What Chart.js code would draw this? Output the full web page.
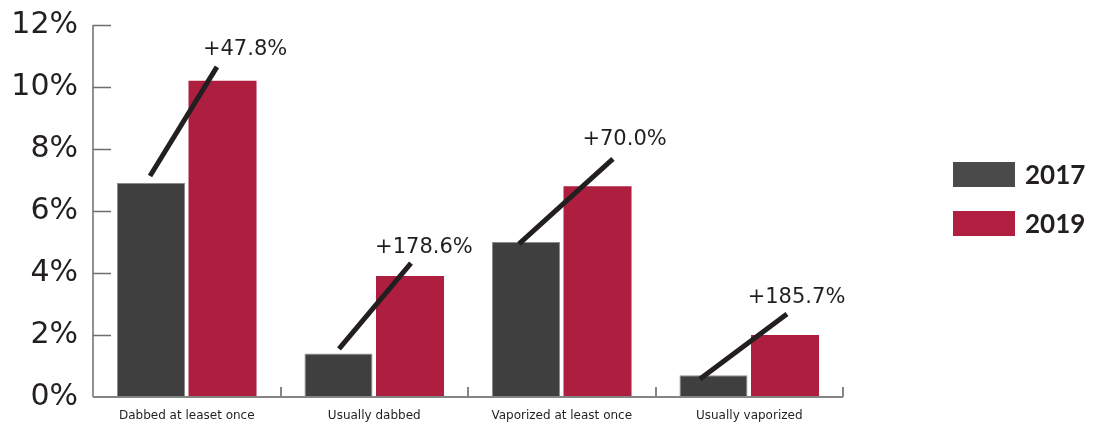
<!DOCTYPE html>
<html>
<head>
<meta charset="utf-8">
<script src="https://cdn.jsdelivr.net/npm/chart.js@4/dist/chart.umd.min.js"></script>
<style>
  html, body { margin: 0; padding: 0; background: #ffffff; }
  #wrap { width: 1099px; height: 425px; position: relative; }
</style>
</head>
<body>
<div id="wrap"><canvas id="c" width="1099" height="425"></canvas></div>
<script>
// Share of respondents, 2017 vs 2019
const categories = ['Dabbed at leaset once', 'Usually dabbed', 'Vaporized at least once', 'Usually vaporized'];
const values2017 = [6.9, 1.4, 5.0, 0.7];
const values2019 = [10.2, 3.9, 6.8, 2.0];
const yTicks = [0, 2, 4, 6, 8, 10, 12];
const changeLabels = ['+47.8%', '+178.6%', '+70.0%', '+185.7%'];

// Leader lines and change labels, anchored in data space:
// [offset from category centre (in categories), value (%)]
const leaders = {
  from:  [[-0.196, 7.13], [-0.188, 1.55], [-0.228, 4.94], [-0.263, 0.58]],
  to:    [[0.161, 10.65], [0.196, 4.32], [0.273, 7.68], [0.201, 2.68]],
  label: [[0.311, 11.03], [0.265, 4.65], [0.335, 8.13], [0.252, 3.03]]
};

const INK = '#231f20';
const AXIS = '#6e6e6e';
const FONT = '"DejaVu Sans", sans-serif';
const KEY_FONT = 'Lato, "DejaVu Sans", sans-serif';

// Axis lines with inward tick marks
const axisFrame = {
  id: 'axisFrame',
  afterDatasetsDraw(chart) {
    const { ctx, chartArea: a, scales: { x, y } } = chart;
    ctx.save();
    ctx.strokeStyle = AXIS;
    ctx.lineWidth = 1.5;
    ctx.beginPath();
    ctx.moveTo(a.left, y.getPixelForValue(yTicks[yTicks.length - 1]));
    ctx.lineTo(a.left, a.bottom);
    yTicks.forEach(v => {
      if (v === 0) return;
      const py = Math.round(y.getPixelForValue(v)) + 0.5;
      ctx.moveTo(a.left, py);
      ctx.lineTo(a.left + 18, py);
    });
    ctx.stroke();
    // baseline with separators between categories
    ctx.lineWidth = 2;
    ctx.strokeStyle = '#858585';
    ctx.beginPath();
    ctx.moveTo(a.left, a.bottom);
    ctx.lineTo(a.right, a.bottom);
    for (let i = 1; i <= categories.length; i++) {
      const px = Math.round(x.getPixelForValue(i - 0.5));
      ctx.moveTo(px, a.bottom);
      ctx.lineTo(px, a.bottom - 10);
    }
    ctx.stroke();
    ctx.restore();
  }
};

// Diagonal leader lines with growth labels
const growthLeaders = {
  id: 'growthLeaders',
  afterDatasetsDraw(chart) {
    const { ctx, scales: { x, y } } = chart;
    ctx.save();
    ctx.strokeStyle = INK;
    ctx.lineWidth = 5;
    ctx.lineCap = 'butt';
    changeLabels.forEach((txt, i) => {
      const f = leaders.from[i], t = leaders.to[i], l = leaders.label[i];
      ctx.beginPath();
      ctx.moveTo(x.getPixelForValue(i + f[0]), y.getPixelForValue(f[1]));
      ctx.lineTo(x.getPixelForValue(i + t[0]), y.getPixelForValue(t[1]));
      ctx.stroke();
      ctx.fillStyle = INK;
      ctx.font = '21px ' + FONT;
      ctx.textAlign = 'center';
      ctx.textBaseline = 'alphabetic';
      ctx.fillText(txt, x.getPixelForValue(i + l[0]), y.getPixelForValue(l[1]));
    });
    ctx.restore();
  }
};

// Legend to the right of the plot
const sideKey = {
  id: 'sideKey',
  afterDraw(chart) {
    const { ctx, chartArea: a } = chart;
    const boxW = 62, boxH = 25, rowGap = 49;
    const left = a.right + 110;
    const top = a.top + 137;
    ctx.save();
    chart.data.datasets.forEach((ds, i) => {
      const ty = top + i * rowGap;
      ctx.fillStyle = ds.legendColor;
      ctx.fillRect(left, ty, boxW, boxH);
      ctx.fillStyle = INK;
      ctx.font = 'bold 26px ' + KEY_FONT;
      ctx.textAlign = 'left';
      ctx.textBaseline = 'middle';
      ctx.fillText(ds.label, left + boxW + 10, ty + boxH / 2 + 1);
    });
    ctx.restore();
  }
};

new Chart(document.getElementById('c'), {
  type: 'bar',
  data: {
    labels: categories,
    datasets: [
      {
        label: '2017',
        data: values2017,
        backgroundColor: '#3f3f3f',
        borderColor: '#8c8c8c',
        borderWidth: 1,
        legendColor: '#4a4a4a'
      },
      {
        label: '2019',
        data: values2019,
        backgroundColor: '#ae1f3f',
        borderWidth: 0,
        legendColor: '#b01f40'
      }
    ]
  },
  options: {
    responsive: false,
    animation: false,
    devicePixelRatio: 1,
    barPercentage: 0.951,
    categoryPercentage: 0.763,
    layout: { padding: { left: 0, top: 25, right: 256, bottom: 0 } },
    plugins: {
      legend: { display: false },
      tooltip: { enabled: false }
    },
    scales: {
      x: {
        grid: { display: false, drawTicks: false },
        border: { display: false },
        ticks: {
          color: INK,
          font: { family: FONT, size: 12, lineHeight: 1 },
          padding: 13,
          maxRotation: 0,
          autoSkip: false
        },
        afterFit(scale) { scale.height = 28; }
      },
      y: {
        min: 0,
        max: 12,
        grid: { display: false, drawTicks: false },
        border: { display: false },
        afterBuildTicks(scale) { scale.ticks = yTicks.map(v => ({ value: v })); },
        ticks: {
          color: INK,
          font: { family: FONT, size: 30, lineHeight: 0.6 },
          padding: 15,
          callback: v => v + '%'
        },
        afterFit(scale) { scale.width = 93; }
      }
    }
  },
  plugins: [axisFrame, growthLeaders, sideKey]
});
</script>
</body>
</html>
